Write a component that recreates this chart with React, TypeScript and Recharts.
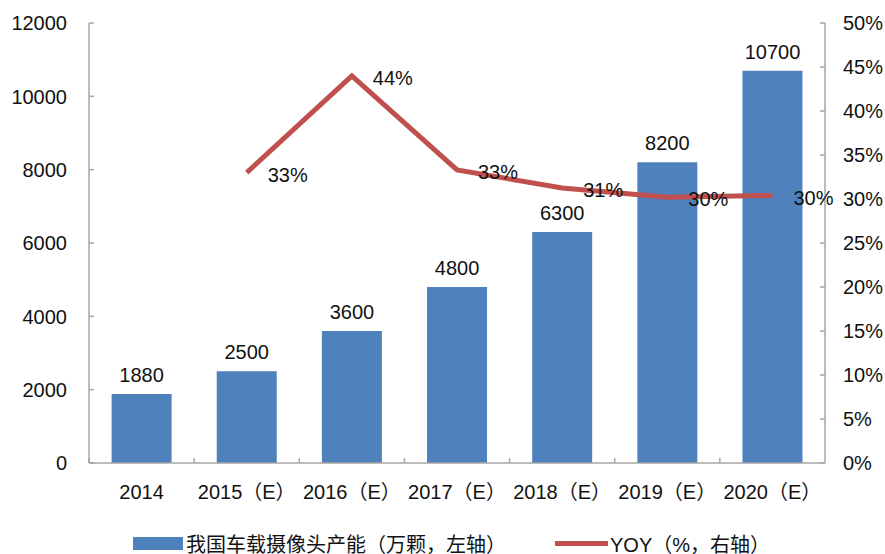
import { ComposedChart, Bar, Line, XAxis, YAxis, Legend, LabelList } from 'recharts'

const years = ['2014', '2015（E）', '2016（E）', '2017（E）', '2018（E）', '2019（E）', '2020（E）']
const capacity = [1880, 2500, 3600, 4800, 6300, 8200, 10700]
const yoy = [null, 33, 44, 33.3, 31.25, 30.2, 30.4]
const leftTicks = [0, 2000, 4000, 6000, 8000, 10000, 12000]
const rightTicks = [0, 5, 10, 15, 20, 25, 30, 35, 40, 45, 50]

const data = years.map((year, i) => ({ year, capacity: capacity[i], yoy: yoy[i] }))

const FONT = "'Liberation Sans', Arial, 'Noto Sans CJK SC', sans-serif"
const AXIS = '#a6a6a6'
const BLUE = '#4f81bd'
const RED = '#c0504d'

function XTick(props: any) {
  const { x, y, payload } = props
  const off = payload.offset || 0
  return (
    <g>
      <line x1={x - off} x2={x - off} y1={y} y2={y - 5} stroke={AXIS} strokeWidth={1.5} />
      <text x={x} y={y + 29} dy="0.36em" textAnchor="middle" fontSize={20} fill="#111" fontFamily={FONT}>
        {payload.value}
      </text>
    </g>
  )
}

function LeftTick(props: any) {
  const { x, y, payload } = props
  return (
    <g>
      <line x1={x} x2={x + 5} y1={y} y2={y} stroke={AXIS} strokeWidth={1.5} />
      <text x={x - 22} y={y} dy="0.36em" textAnchor="end" fontSize={20} fill="#111" fontFamily={FONT}>
        {payload.value}
      </text>
    </g>
  )
}

function RightTick(props: any) {
  const { x, y, payload } = props
  return (
    <g>
      <line x1={x} x2={x - 5} y1={y} y2={y} stroke={AXIS} strokeWidth={1.5} />
      <text x={x + 18} y={y} dy="0.36em" textAnchor="start" fontSize={20} fill="#111" fontFamily={FONT}>
        {payload.value + '%'}
      </text>
    </g>
  )
}

function YoyLabel(props: any) {
  const { x, y, value } = props
  if (value == null) return null
  return (
    <text x={x + 21} y={y + 2} dy="0.36em" fontSize={20} fill="#111" fontFamily={FONT}>
      {Math.round(value) + '%'}
    </text>
  )
}

function LegendBox() {
  return (
    <div
      style={{
        display: 'flex',
        justifyContent: 'center',
        alignItems: 'center',
        height: 41,
        paddingTop: 19,
        paddingLeft: 18,
        boxSizing: 'border-box',
        fontFamily: FONT,
        fontSize: 20,
        color: '#111',
      }}
    >
      <span style={{ display: 'inline-block', width: 50, height: 13, background: BLUE, marginRight: 3 }} />
      <span>我国车载摄像头产能（万颗，左轴）</span>
      <span style={{ display: 'inline-block', width: 53, height: 5, background: RED, marginLeft: 49, marginRight: 2 }} />
      <span>YOY（%，右轴）</span>
    </div>
  )
}

export default function App() {
  return (
    <div style={{ position: 'absolute', left: 0, top: 0, background: '#fff' }}>
      <ComposedChart
        width={885}
        height={554}
        data={data}
        barCategoryGap="21.5%"
        margin={{ top: 23, right: 0, bottom: 0, left: 0 }}
      >
        <XAxis
          dataKey="year"
          height={50}
          stroke={AXIS}
          strokeWidth={1.5}
          tickLine={false}
          tickSize={0}
          tickMargin={0}
          interval={0}
          tick={<XTick />}
        />
        <YAxis
          yAxisId="left"
          width={89}
          domain={[0, 12000]}
          ticks={leftTicks}
          stroke={AXIS}
          strokeWidth={1.5}
          tickLine={false}
          tickSize={0}
          tickMargin={0}
          interval={0}
          tick={<LeftTick />}
        />
        <YAxis
          yAxisId="right"
          orientation="right"
          width={60}
          domain={[0, 50]}
          ticks={rightTicks}
          stroke={AXIS}
          strokeWidth={1.5}
          tickLine={false}
          tickSize={0}
          tickMargin={0}
          interval={0}
          tick={<RightTick />}
        />
        <Legend verticalAlign="bottom" height={41} content={<LegendBox />} />
        <Bar yAxisId="left" dataKey="capacity" fill={BLUE} isAnimationActive={false}>
          <LabelList dataKey="capacity" position="top" offset={12} fontSize={20} fill="#111" fontFamily={FONT} />
        </Bar>
        <Line
          yAxisId="right"
          dataKey="yoy"
          stroke={RED}
          strokeWidth={5}
          dot={false}
          activeDot={false}
          isAnimationActive={false}
        >
          <LabelList dataKey="yoy" content={<YoyLabel />} />
        </Line>
      </ComposedChart>
    </div>
  )
}
